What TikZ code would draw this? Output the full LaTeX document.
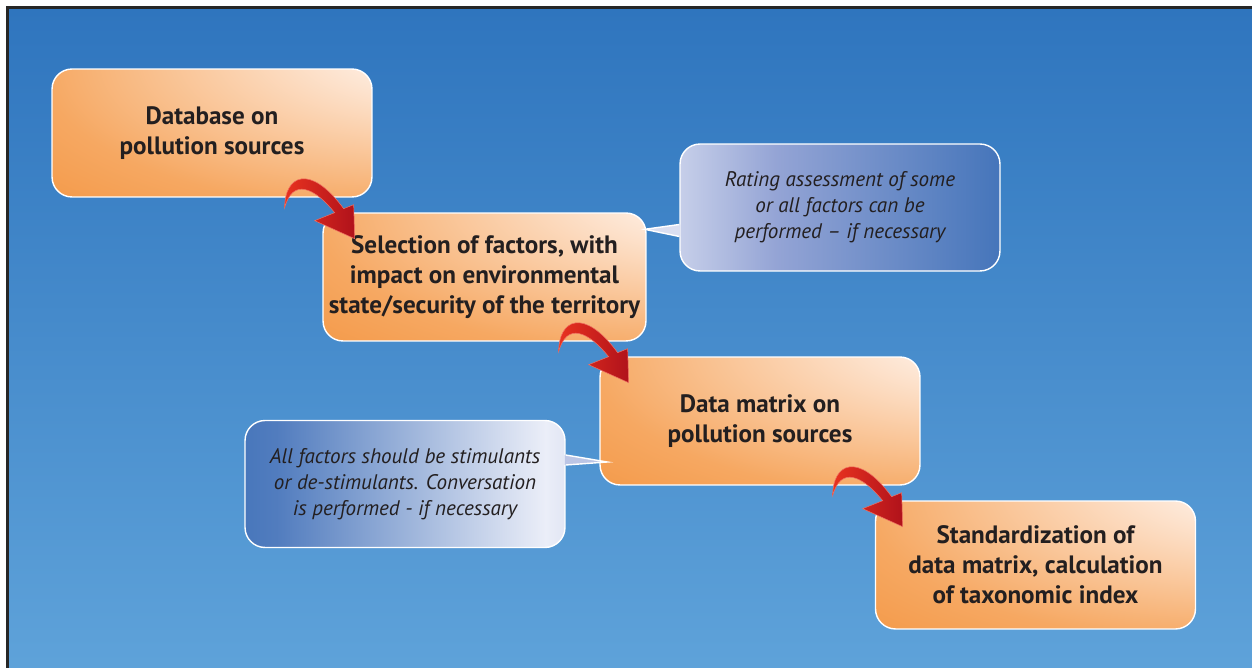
\documentclass[tikz,border=0pt]{standalone}
\usepackage{fontspec}
\setmainfont{PT Sans}
\usetikzlibrary{positioning,calc}
\definecolor{BgTop}{HTML}{2F75BE}
\definecolor{BgBot}{HTML}{5FA3DA}
\definecolor{BoxDark}{HTML}{F1882A}
\definecolor{BoxMid}{HTML}{F6A862}
\definecolor{BoxLight}{HTML}{FEEBDD}
\definecolor{NoteDark}{HTML}{1B5CAC}
\definecolor{NoteMid}{HTML}{94A4D5}
\definecolor{NoteLight}{HTML}{EBEEF8}
\definecolor{TextDark}{HTML}{231F20}
\definecolor{ArrowLight}{HTML}{E8321F}
\definecolor{ArrowDark}{HTML}{B0121B}
\pgfdeclareradialshading{boxglow}{\pgfpoint{45bp}{40bp}}{color(0bp)=(BoxLight); color(18bp)=(BoxLight); color(55bp)=(BoxMid); color(88bp)=(BoxDark); color(150bp)=(BoxDark)}
\pgfdeclarehorizontalshading{noteright}{100bp}{color(0bp)=(NoteMid); color(14bp)=(NoteLight); color(40bp)=(NoteMid); color(75bp)=(NoteDark!65!NoteMid); color(100bp)=(NoteDark)}
\pgfdeclarehorizontalshading{noteleft}{100bp}{color(0bp)=(NoteDark); color(30bp)=(NoteDark!55!NoteMid); color(72bp)=(NoteLight); color(100bp)=(NoteMid)}
\tikzset{
  bentarrow/.pic={
    \shade[left color=ArrowLight, right color=ArrowDark, draw=ArrowLight!70!white, line width=0.3pt]
      (0,0) .. controls (0,-32) and (25,-45) .. (59,1) -- (69,-3) -- (70,31) -- (30,13) -- (50,5)
      .. controls (30,-20) and (8,-30) .. (0,0) -- cycle;
  }
}
\begin{document}
\begin{tikzpicture}[x=0.02cm, y=-0.02cm,
    stage/.style={rectangle, rounded corners=0.4cm, draw=white, line width=0.8pt, shade, shading=boxglow,
      minimum width=6.4cm, minimum height=2.56cm, align=center, text=TextDark,
      font=\fontsize{14.3}{17}\selectfont\bfseries},
    note/.style={rectangle, rounded corners=0.4cm, draw=white, line width=0.8pt, shade,
      minimum width=6.4cm, minimum height=2.54cm, align=center, text=TextDark,
      font=\fontsize{12}{14.7}\selectfont\itshape}]
    \useasboundingbox (0,0) rectangle (1252,668);
    % draw the background and the frame
    \fill[white] (0,0) rectangle (1252,668);
    \shade[top color=BgTop, bottom color=BgBot] (9,9) rectangle (1262,678);
    \draw[black!85, line width=0.06cm] (7.5,678) -- (7.5,7.5) -- (1262,7.5);

    % draw the stages
    \node[stage] (db) at (212,133) {Database on\\pollution sources};
    \node[stage] (sel) at (484.5,277) {Selection of factors, with\\impact on environmental\\state/security of the territory};
    \node[stage] (dm) at (760,421) {Data matrix on\\pollution sources};
    \node[stage] (std) at (1035.5,565) {Standardization of\\data matrix, calculation\\of taxonomic index};

    % draw the remarks
    \node[note, shading=noteright] (rating) at (840,207.5) {Rating assessment of some\\or all factors can be\\performed -- if necessary};
    \node[note, shading=noteleft] (stim) at (405,484) {All factors should be stimulants\\or de-stimulants. Conversation\\is performed - if necessary};

    % draw the pointers of the remarks
    \coordinate (rp) at ($(sel.north east)+(-2,17)$);
    \fill[NoteLight!80!NoteMid] ($(rating.west)+(1,17)$) -- (rp) -- ($(rating.west)+(1,29)$) -- cycle;
    \draw[white, line width=0.8pt] ($(rating.west)+(0,17)$) -- (rp) -- ($(rating.west)+(0,29)$);
    \coordinate (sp) at ($(dm.west)+(8,41)$);
    \fill[NoteLight!45!NoteMid] ($(stim.east)+(-1,-29)$) -- (sp) -- ($(stim.east)+(-1,-19)$) -- cycle;
    \draw[white, line width=0.8pt] ($(stim.east)+(0,-29)$) -- (sp) -- ($(stim.east)+(0,-19)$);

    % draw the arrows between the stages
    \foreach \source/\dest in {db/sel, sel/dm, dm/std}{
        \pic at ($(\source.south east)+(-88,10)$) {bentarrow};
    }
\end{tikzpicture}
\end{document}
